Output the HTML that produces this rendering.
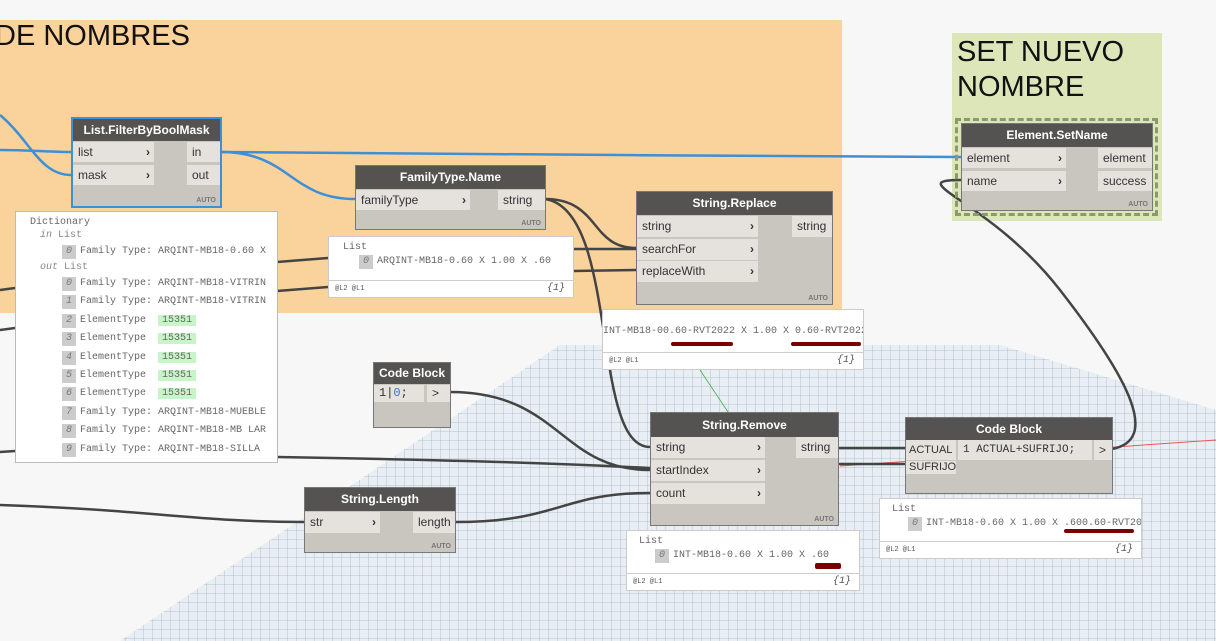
<!DOCTYPE html>
<html><head><meta charset="utf-8"><style>
*{box-sizing:border-box;margin:0;padding:0}
body{width:1216px;height:641px;overflow:hidden;background:#f7f7f7;position:relative;font-family:"Liberation Sans",sans-serif}
.a{position:absolute}
.node{position:absolute;background:#c9c5bf;border:1px solid #777}
.hd{position:absolute;left:0;right:0;top:0;background:#555351;color:#fff;font-weight:bold;font-size:12px;text-align:center}
.p{position:absolute;background:#e5e2de;font-size:12px;color:#333;padding-left:5px;white-space:nowrap;overflow:hidden}
.ch{position:absolute;right:4px;top:0;font-weight:bold}
.auto{position:absolute;right:4px;bottom:2px;font-size:7px;font-weight:bold;color:#777}
.prev{position:absolute;background:#fff;border:1px solid #ccc;font-family:"Liberation Mono",monospace;font-size:10px;color:#666}
.ix{display:inline-block;background:#ccc;color:#777;padding:0 4px;font-style:italic;margin-right:4px;line-height:14px}
.foot{position:absolute;left:0;right:0;bottom:0;border-top:1px solid #ccc;font-size:7px;padding:4px 6px;color:#555}
.foot i{position:absolute;right:8px;top:2px;font-size:10px}
.red{position:absolute;background:#7a0000;height:4px;border-radius:2px}
.r{padding-left:32px;height:18.4px;line-height:18.4px}
</style></head><body>
<svg class="a" style="left:0;top:0" width="1216" height="641">
<defs><pattern id="g" width="9" height="9" patternUnits="userSpaceOnUse"><path d="M9 0V9H0" fill="none" stroke="#a4b7c7" stroke-width="0.8"/></pattern></defs>
<polygon points="120,641 560,345 1000,345 1216,410 1216,641" fill="#e8eef3"/>
<polygon points="120,641 560,345 1000,345 1216,410 1216,641" fill="url(#g)"/>
<rect x="0" y="20" width="842" height="293" fill="#fad29c"/>
<rect x="952" y="33" width="210" height="188" fill="#dde6b9"/>
<line x1="840" y1="466" x2="1216" y2="440" stroke="#e55" stroke-width="1"/>
<g fill="none" stroke="#3d8fd6" stroke-width="2.5">
<path d="M0,150 C30,150 50,152 71,152"/>
<path d="M0,115 C30,140 40,175 71,175"/>
<path d="M221,152 C500,154 700,156 961,157"/>
<path d="M221,152 C290,152 290,199 355,199"/>
</g>
<g fill="none" stroke="#444" stroke-width="2.5">
<path d="M545,199 C600,199 590,248 636,248"/>
<path d="M545,199 C620,210 590,447 650,447"/>
<path d="M277,262 L328,258"/><path d="M277,291 L328,287"/>
<path d="M573,249 L636,249"/><path d="M573,271 L636,270"/>
<path d="M0,290 L15,288"/><path d="M0,330 L15,328"/><path d="M0,452 L15,451"/>
<path d="M277,457 C450,460 550,463 650,468"/>
<path d="M450,392 C560,392 560,470 650,470"/>
<path d="M455,522 C560,522 560,493 650,493"/>
<path d="M0,505 C150,510 200,522 304,522"/>
<path d="M838,448 L905,448"/><path d="M838,464 L905,464"/>
<path d="M1112,449 C1160,440 1130,380 1060,290 C990,200 900,180 961,180"/>
</g>
<line x1="700" y1="370" x2="740" y2="430" stroke="#4a4" stroke-width="0.8"/>
</svg>
<div class="a" style="left:-5px;top:20px;font-size:29px;color:#111">DE NOMBRES</div>
<div class="a" style="left:957px;top:35px;font-size:29px;line-height:35px;color:#111">SET NUEVO<br>NOMBRE</div>

<div class="node" style="left:71px;top:117px;width:151px;height:91px;border:2px solid #3d8fd6"><div class="hd" style="height:22px;line-height:22px">List.FilterByBoolMask</div>
<div class="p" style="left:0;top:23px;width:81px;height:20px;line-height:20px">list<span class="ch">›</span></div>
<div class="p" style="left:0;top:46px;width:81px;height:20px;line-height:20px">mask<span class="ch">›</span></div>
<div class="p" style="left:114px;top:23px;width:33px;height:20px;line-height:20px">in</div>
<div class="p" style="left:114px;top:46px;width:33px;height:20px;line-height:20px">out</div><div class="auto">AUTO</div></div>

<div class="node" style="left:355px;top:165px;width:191px;height:65px"><div class="hd" style="height:23px;line-height:23px">FamilyType.Name</div>
<div class="p" style="left:0;top:24px;width:114px;height:20px;line-height:20px">familyType<span class="ch">›</span></div>
<div class="p" style="left:142px;top:24px;width:47px;height:20px;line-height:20px">string</div><div class="auto">AUTO</div></div>

<div class="node" style="left:636px;top:191px;width:197px;height:114px"><div class="hd" style="height:23px;line-height:23px">String.Replace</div>
<div class="p" style="left:0;top:24px;width:121px;height:21px;line-height:21px">string<span class="ch">›</span></div>
<div class="p" style="left:0;top:47px;width:121px;height:21px;line-height:21px">searchFor<span class="ch">›</span></div>
<div class="p" style="left:0;top:69px;width:121px;height:21px;line-height:21px">replaceWith<span class="ch">›</span></div>
<div class="p" style="left:155px;top:24px;width:40px;height:21px;line-height:21px">string</div><div class="auto">AUTO</div></div>

<div class="a" style="left:955px;top:118px;width:203px;height:98px;border:3px dashed #8a9a6a"></div>
<div class="node" style="left:961px;top:123px;width:192px;height:88px"><div class="hd" style="height:23px;line-height:23px">Element.SetName</div>
<div class="p" style="left:0;top:24px;width:104px;height:20px;line-height:20px">element<span class="ch">›</span></div>
<div class="p" style="left:0;top:47px;width:104px;height:20px;line-height:20px">name<span class="ch">›</span></div>
<div class="p" style="left:136px;top:24px;width:54px;height:20px;line-height:20px">element</div>
<div class="p" style="left:136px;top:47px;width:54px;height:20px;line-height:20px">success</div><div class="auto">AUTO</div></div>

<div class="node" style="left:373px;top:362px;width:78px;height:66px"><div class="hd" style="height:21px;line-height:21px">Code Block</div>
<div class="p" style="left:0;top:22px;width:50px;height:17px;line-height:17px;font-family:'Liberation Mono',monospace">1|<span style="color:#37c">0</span>;</div>
<div class="p" style="left:53px;top:22px;width:23px;height:17px;line-height:17px">&gt;</div></div>

<div class="node" style="left:650px;top:412px;width:189px;height:114px"><div class="hd" style="height:24px;line-height:24px">String.Remove</div>
<div class="p" style="left:0;top:24px;width:114px;height:21px;line-height:21px">string<span class="ch">›</span></div>
<div class="p" style="left:0;top:47px;width:114px;height:21px;line-height:21px">startIndex<span class="ch">›</span></div>
<div class="p" style="left:0;top:70px;width:114px;height:21px;line-height:21px">count<span class="ch">›</span></div>
<div class="p" style="left:145px;top:24px;width:42px;height:21px;line-height:21px">string</div><div class="auto">AUTO</div></div>

<div class="node" style="left:905px;top:417px;width:208px;height:77px"><div class="hd" style="height:22px;line-height:22px">Code Block</div>
<div class="p" style="left:0;top:22px;width:50px;height:20px;line-height:20px;font-size:11px;padding-left:3px">ACTUAL</div>
<div class="p" style="left:0;top:43px;width:50px;height:13px;line-height:13px;font-size:11px;padding-left:3px">SUFRIJO</div>
<div class="p" style="left:52px;top:22px;width:134px;height:20px;line-height:20px;font-family:'Liberation Mono',monospace;font-size:11px">1 ACTUAL+SUFRIJO;</div>
<div class="p" style="left:188px;top:22px;width:18px;height:20px;line-height:20px">&gt;</div></div>

<div class="node" style="left:304px;top:487px;width:152px;height:66px"><div class="hd" style="height:23px;line-height:23px">String.Length</div>
<div class="p" style="left:0;top:24px;width:75px;height:21px;line-height:21px">str<span class="ch">›</span></div>
<div class="p" style="left:108px;top:24px;width:42px;height:21px;line-height:21px">length</div><div class="auto">AUTO</div></div>

<div class="prev" style="left:15px;top:211px;width:263px;height:252px;padding:4px 0 0 14px;overflow:hidden;white-space:nowrap;border-color:#bbb">
<div style="height:13px;line-height:13px">Dictionary</div>
<div style="padding-left:10px;color:#888;height:14px;line-height:14px"><i>in</i> List</div>
<div class="r" style="height:17px;line-height:17px"><span class="ix">0</span>Family Type: ARQINT-MB18-0.60 X</div>
<div style="padding-left:10px;color:#888;height:15px;line-height:15px"><i>out</i> List</div>
<div class="r"><span class="ix">0</span>Family Type: ARQINT-MB18-VITRIN</div>
<div class="r"><span class="ix">1</span>Family Type: ARQINT-MB18-VITRIN</div>
<div class="r"><span class="ix">2</span>ElementType &nbsp;<span style="background:#c8f5c8;padding:0 4px">15351</span></div>
<div class="r"><span class="ix">3</span>ElementType &nbsp;<span style="background:#c8f5c8;padding:0 4px">15351</span></div>
<div class="r"><span class="ix">4</span>ElementType &nbsp;<span style="background:#c8f5c8;padding:0 4px">15351</span></div>
<div class="r"><span class="ix">5</span>ElementType &nbsp;<span style="background:#c8f5c8;padding:0 4px">15351</span></div>
<div class="r"><span class="ix">6</span>ElementType &nbsp;<span style="background:#c8f5c8;padding:0 4px">15351</span></div>
<div class="r"><span class="ix">7</span>Family Type: ARQINT-MB18-MUEBLE</div>
<div class="r"><span class="ix">8</span>Family Type: ARQINT-MB18-MB LAR</div>
<div class="r"><span class="ix">9</span>Family Type: ARQINT-MB18-SILLA</div>
</div>

<div class="prev" style="left:328px;top:236px;width:246px;height:62px"><div style="padding:5px 0 0 14px">List</div><div style="padding:2px 0 0 30px"><span class="ix">0</span>ARQINT-MB18-0.60 X 1.00 X .60</div><div class="foot">@L2 @L1<i>{1}</i></div></div>

<div class="prev" style="left:602px;top:309px;width:262px;height:61px;overflow:hidden;white-space:nowrap"><div style="padding:16px 0 0 0">INT-MB18-00.60-RVT2022 X 1.00 X 0.60-RVT2022</div><div class="foot">@L2 @L1<i>{1}</i></div>
<div class="red" style="left:68px;top:32px;width:62px"></div><div class="red" style="left:188px;top:32px;width:70px"></div></div>

<div class="prev" style="left:626px;top:530px;width:234px;height:61px"><div style="padding:5px 0 0 12px">List</div><div style="padding:2px 0 0 28px;white-space:nowrap"><span class="ix">0</span>INT-MB18-0.60 X 1.00 X .60</div><div class="foot">@L2 @L1<i>{1}</i></div>
<div class="red" style="left:188px;top:32px;width:26px;height:6px"></div></div>

<div class="prev" style="left:879px;top:498px;width:263px;height:61px;overflow:hidden;white-space:nowrap"><div style="padding:5px 0 0 12px">List</div><div style="padding:2px 0 0 28px"><span class="ix">0</span>INT-MB18-0.60 X 1.00 X .600.60-RVT20;</div><div class="foot">@L2 @L1<i>{1}</i></div>
<div class="red" style="left:184px;top:30px;width:70px"></div></div>
</body></html>
